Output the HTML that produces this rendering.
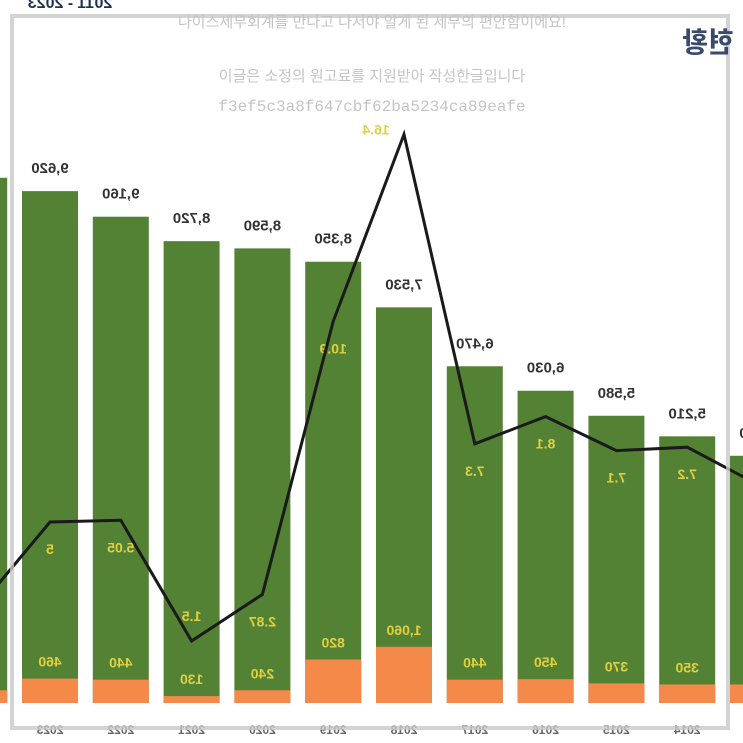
<!DOCTYPE html>
<html><head><meta charset="utf-8"><style>
html,body{margin:0;padding:0;background:#fff;}
svg{display:block;font-family:"Liberation Sans","Noto Sans CJK KR",sans-serif;}
</style></head><body>
<svg id="chart" width="743" height="743" viewBox="0 0 743 743" xmlns="http://www.w3.org/2000/svg">
<rect width="743" height="743" fill="#fff"/>
<g id="bars"></g>
<g id="line"></g>
<rect x="12" y="16" width="716" height="712" fill="none" stroke="#c8c8c8" stroke-width="4" opacity="0.8"/>
<text transform="translate(70,8) scale(-1,1)" text-anchor="middle" font-size="16" font-weight="bold" fill="#1f3350">2011 - 2023</text>
<text transform="translate(708,52) scale(-1,1)" text-anchor="middle" font-size="28" font-weight="bold" fill="#3a4a6a">현황</text>
<text x="372" y="27" text-anchor="middle" font-size="15" fill="#c4c4c4">나이스세무회계를 만나고 나서야 알게 된 세무의 편안함이에요!</text>
<text x="372" y="81" text-anchor="middle" font-size="15" fill="#c4c4c4">이글은 소정의 원고료를 지원받아 작성한글입니다</text>
<text x="372" y="111" text-anchor="middle" font-size="16" fill="#c4c4c4" font-family="Liberation Mono, monospace">f3ef5c3a8f647cbf62ba5234ca89eafe</text>
</svg>
<script>
const years = ['2024','2023','2022','2021','2020','2019','2018','2017','2016','2015','2014','2013'];
const wages = [9860,9620,9160,8720,8590,8350,7530,6470,6030,5580,5210,4860];
const increases = [240,460,440,130,240,820,1060,440,450,370,350,350];
const rates = [2.5,5,5.05,1.5,2.87,10.9,16.4,7.3,8.1,7.1,7.2,6.1];
const rateLabels = ['2.5','5','5.05','1.5','2.87','10.9','16.4','7.3','8.1','7.1','7.2','6.1'];

const NS='http://www.w3.org/2000/svg';
const xC = i => 50 + (i-1)*70.8;
const yW = v => 726 - v*0.0556;
const base = 703;
const hInc = v => v*0.053;
const yR = v => 692 - v*34;
const bw = 56;
function mk(tag, attrs, parent){const e=document.createElementNS(NS,tag);for(const k in attrs)e.setAttribute(k,attrs[k]);parent.appendChild(e);return e;}
function mtext(x,y,str,size,fill,parent,weight){
  const t=mk('text',{transform:`translate(${x},${y}) scale(-1,1)`,'text-anchor':'middle','font-size':size,fill:fill,'font-weight':weight||'normal'},parent);
  t.textContent=str;return t;
}
const gb=document.getElementById('bars');
const gl=document.getElementById('line');
years.forEach((yr,i)=>{
  const cx=xC(i);
  const top=yW(wages[i]);
  const bar=mk('rect',{x:cx-bw/2,y:top,width:bw,height:base-top,fill:'#548235'},gb);
  
  
  const oh=hInc(increases[i]);
  const ob=mk('rect',{x:cx-bw/2,y:base-oh,width:bw,height:oh,fill:'#f4894a'},gb);
  
  
  const wl=mtext(cx,top-18,wages[i].toLocaleString('en-US'),15,'#333',gb,'bold');
  
  
  const il=mtext(cx,base-oh-12,increases[i].toLocaleString('en-US'),14,'#e0d040',gb,'bold');
  
  
  let lx=cx, ly=yR(rates[i])+32;
  if(i===3){ly=yR(rates[i])-20;}
  if(i===6){lx=cx-28;ly=yR(rates[i]);}
  const rl=mtext(lx,ly,rateLabels[i],14,'#e0d040',gl,'bold');
  
  
  const yl=mtext(cx,734,yr,12,'#666',gb,'bold');
  
  
});
const pts=rates.map((r,i)=>`${xC(i)},${yR(r)}`).join(' ');
const pl=mk('polyline',{points:pts,fill:'none',stroke:'#1a1a1a','stroke-width':3,'stroke-linejoin':'miter'},gl);


</script>
</body></html>
